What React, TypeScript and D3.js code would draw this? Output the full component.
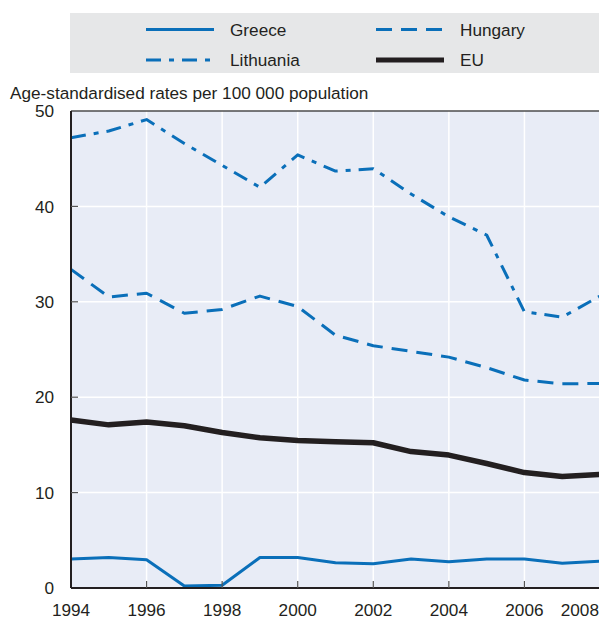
import * as d3 from 'd3';

const years = [1994, 1995, 1996, 1997, 1998, 1999, 2000, 2001, 2002, 2003, 2004, 2005, 2006, 2007, 2008];
const greece = [3.05, 3.2, 2.95, 0.2, 0.28, 3.2, 3.2, 2.65, 2.55, 3.05, 2.75, 3.05, 3.05, 2.6, 2.82];
const hungary = [33.4, 30.5, 30.9, 28.8, 29.2, 30.6, 29.5, 26.5, 25.4, 24.8, 24.2, 23.1, 21.8, 21.4, 21.45];
const lithuania = [47.2, 47.9, 49.1, 46.6, 44.3, 42.0, 45.4, 43.7, 43.95, 41.3, 38.9, 37.0, 28.95, 28.4, 30.6];
const eu = [17.6, 17.1, 17.4, 17.0, 16.3, 15.75, 15.45, 15.32, 15.22, 14.3, 13.93, 13.05, 12.1, 11.68, 11.9];

const yTicks = [0, 10, 20, 30, 40, 50];
const xTicks = [1994, 1996, 1998, 2000, 2002, 2004, 2006, 2008];
const yTitle = 'Age-standardised rates per 100 000 population';

const BLUE = '#0a6fb9';
const DARK = '#231f20';
const FONT = "'Liberation Sans', Arial, sans-serif";
const FS = 17.2;

const series = [
  { name: 'Greece', values: greece, color: BLUE, width: 3, dash: undefined },
  { name: 'Hungary', values: hungary, color: BLUE, width: 3, dash: '16,9' },
  { name: 'Lithuania', values: lithuania, color: BLUE, width: 3, dash: '15,8,5,8' },
  { name: 'EU', values: eu, color: DARK, width: 5.5, dash: undefined },
];

const App = () => {
  const W = 599, H = 619;
  const left = 71, right = 600, top = 111, bottom = 588;

  const x = d3.scaleLinear().domain([1994, 2008]).range([left, right]);
  const y = d3.scaleLinear().domain([0, 50]).range([bottom, top]);
  const line = d3.line<number>().x((_, i) => x(years[i])).y(d => y(d));

  // legend layout: Greece / Hungary on row one, Lithuania / EU on row two
  const legendItems = [
    { s: series[0], col: 0, row: 0 },
    { s: series[1], col: 1, row: 0 },
    { s: series[2], col: 0, row: 1 },
    { s: series[3], col: 1, row: 1 },
  ];
  const colX = [146, 376];
  const rowY = [29.5, 60];

  return (
    <svg width={W} height={H} style={{ position: 'absolute', left: 0, top: 0, fontFamily: FONT }}>
      <rect x={0} y={0} width={W} height={H} fill="#fff" />

      {/* legend */}
      <rect x={70} y={13} width={W - 70} height={60} fill="#e6e7e8" />
      {legendItems.map(({ s, col, row }) => (
        <g key={s.name}>
          <line x1={colX[col]} x2={colX[col] + 68} y1={rowY[row]} y2={rowY[row]}
            stroke={s.color} strokeWidth={s.name === 'EU' ? 5 : 3} strokeDasharray={s.dash} />
          <text x={colX[col] + 84} y={rowY[row] + 6.2} fontSize={FS} fill={DARK}>{s.name}</text>
        </g>
      ))}

      <text x={10} y={99} fontSize={FS} fill={DARK}>{yTitle}</text>

      {/* plot */}
      <rect x={left} y={top} width={right - left} height={bottom - top} fill="#e8ecf6" />
      {yTicks.filter(t => t > 0 && t < 50).map(t => (
        <line key={'gy' + t} x1={left} x2={right} y1={y(t)} y2={y(t)} stroke="#fff" strokeWidth={1.5} />
      ))}
      {xTicks.filter(t => t > 1994 && t < 2008).map(t => (
        <line key={'gx' + t} x1={x(t)} x2={x(t)} y1={top} y2={bottom} stroke="#fff" strokeWidth={1.5} />
      ))}

      {series.map(s => (
        <path key={s.name} d={line(s.values) || ''} fill="none" stroke={s.color}
          strokeWidth={s.width} strokeDasharray={s.dash} strokeLinejoin="round" />
      ))}

      {/* axes */}
      <line x1={left} x2={right} y1={top} y2={top} stroke="#4d4d4d" strokeWidth={1.5} />
      <line x1={left} x2={left} y1={top} y2={bottom} stroke={DARK} strokeWidth={2} />
      <line x1={left} x2={right} y1={bottom} y2={bottom} stroke={DARK} strokeWidth={2} />
      {yTicks.map(t => (
        <g key={'ty' + t}>
          {t > 0 && t < 50 && <line x1={left} x2={left + 7} y1={y(t)} y2={y(t)} stroke="#555" strokeWidth={1.2} />}
          <text x={54} y={y(t) + 6.2} textAnchor="end" fontSize={FS} fill={DARK}>{t}</text>
        </g>
      ))}
      {xTicks.map((t, i) => (
        <g key={'tx' + t}>
          {t > 1994 && <line x1={x(t)} x2={x(t)} y1={bottom - 7} y2={bottom} stroke="#555" strokeWidth={1.2} />}
          <text x={i === xTicks.length - 1 ? W : x(t)} y={616} textAnchor={i === xTicks.length - 1 ? 'end' : 'middle'}
            fontSize={FS} fill={DARK}>{t}</text>
        </g>
      ))}
    </svg>
  );
};

export default App;
